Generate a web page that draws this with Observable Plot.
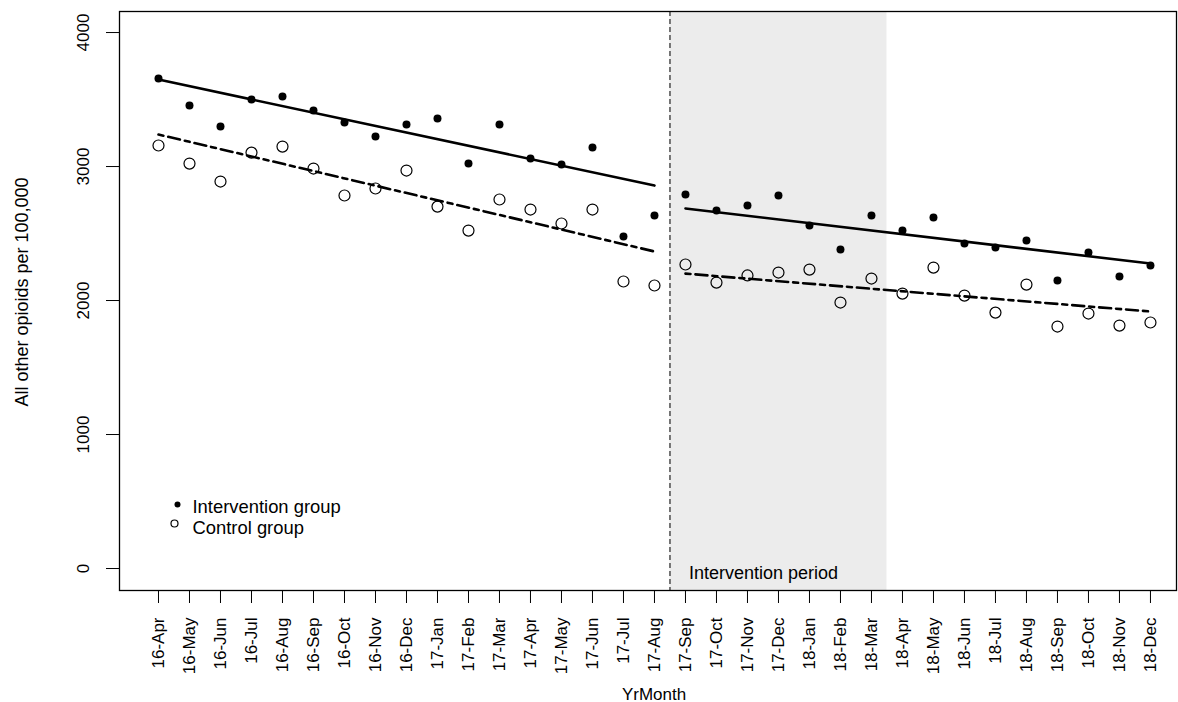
<!DOCTYPE html>
<html>
<head>
<meta charset="utf-8">
<script src="https://cdn.jsdelivr.net/npm/d3@7"></script>
<script src="https://cdn.jsdelivr.net/npm/@observablehq/plot@0.6"></script>
<style>
  html, body { margin: 0; padding: 0; background: #fff; }
</style>
</head>
<body>
<div id="chart"></div>
<script>
// ---- Data ----
const months = ["16-Apr","16-May","16-Jun","16-Jul","16-Aug","16-Sep","16-Oct","16-Nov","16-Dec",
  "17-Jan","17-Feb","17-Mar","17-Apr","17-May","17-Jun","17-Jul","17-Aug","17-Sep","17-Oct","17-Nov","17-Dec",
  "18-Jan","18-Feb","18-Mar","18-Apr","18-May","18-Jun","18-Jul","18-Aug","18-Sep","18-Oct","18-Nov","18-Dec"];

const intervention = [3657,3455,3299,3500,3522,3418,3328,3224,3313,3358,3022,3313,3060,3015,3142,2478,2634,
  2791,2672,2709,2784,2560,2381,2634,2522,2619,2425,2396,2448,2149,2358,2179,2261];

const control = [3157,3022,2888,3104,3149,2985,2784,2836,2970,2701,2522,2754,2679,2575,2679,2142,2112,
  2269,2134,2187,2209,2231,1985,2164,2052,2246,2037,1910,2119,1806,1903,1813,1836];

// fitted segment end values (pre period: 16-Apr..17-Aug, post period: 17-Sep..18-Dec)
const fitInterventionPre = [3649, 2858];
const fitInterventionPost = [2687, 2276];
const fitControlPre = [3239, 2366];
const fitControlPost = [2201, 1918];

const yTicks = [0, 1000, 2000, 3000, 4000];
const periodFirst = "17-Sep";
const periodShadeLast = "18-Mar";
const legendLabels = ["Intervention group", "Control group"];

// ---- Build tables ----
const iPostStart = months.indexOf(periodFirst);
const iShadeEnd = months.indexOf(periodShadeLast);
const iLast = months.length - 1;

const pts = months.map((m, i) => ({i, m, intervention: intervention[i], control: control[i]}));
const fits = [
  {g: "int", seg: "pre", i: 0, v: fitInterventionPre[0]}, {g: "int", seg: "pre", i: iPostStart - 1, v: fitInterventionPre[1]},
  {g: "int", seg: "post", i: iPostStart, v: fitInterventionPost[0]}, {g: "int", seg: "post", i: iLast, v: fitInterventionPost[1]},
  {g: "ctl", seg: "pre", i: 0, v: fitControlPre[0]}, {g: "ctl", seg: "pre", i: iPostStart - 1, v: fitControlPre[1]},
  {g: "ctl", seg: "post", i: iPostStart, v: fitControlPost[0]}, {g: "ctl", seg: "post", i: iLast, v: fitControlPost[1]}
];
const boundary = iPostStart - 0.5;
const shadeEnd = iShadeEnd + 0.5;

const font = "'Liberation Sans', Arial, sans-serif";

const chart = Plot.plot({
  width: 1178,
  height: 702,
  marginLeft: 119,
  marginRight: 2,
  marginTop: 11,
  marginBottom: 112,
  style: {fontFamily: font, fontSize: "17px", color: "#000", background: "#fff"},
  x: {type: "linear", domain: [-1.258, 32.84]},
  y: {type: "linear", domain: [-164, 4157]},
  marks: [
    Plot.rect([{x1: boundary, x2: shadeEnd}], {x1: "x1", x2: "x2", y1: -164, y2: 4157, fill: "#ececec"}),
    Plot.ruleX([boundary], {stroke: "#333", strokeWidth: 1.3, strokeDasharray: "5,3"}),
    Plot.line(fits.filter(d => d.g === "int"), {x: "i", y: "v", z: "seg", stroke: "#000", strokeWidth: 2.6}),
    Plot.line(fits.filter(d => d.g === "ctl"), {x: "i", y: "v", z: "seg", stroke: "#000", strokeWidth: 2.6, strokeDasharray: "5,5,12,5"}),
    Plot.dot(pts, {x: "i", y: "intervention", r: 4, fill: "#000", stroke: "none"}),
    Plot.dot(pts, {x: "i", y: "control", r: 5.5, fill: "none", stroke: "#000", strokeWidth: 1.2}),
    Plot.frame({stroke: "#000", strokeWidth: 1.3}),
    Plot.axisX(d3.range(months.length), {
      tickFormat: i => months[i], tickRotate: -90, tickSize: 13, tickPadding: 14,
      fontSize: 17, label: null, stroke: "#000"
    }),
    Plot.axisY(yTicks, {
      tickFormat: d => String(d), tickRotate: -90, tickSize: 13, tickPadding: 18, fontSize: 17, label: null, stroke: "#000"
    }),
    // axis titles
    Plot.text(["YrMonth"], {frameAnchor: "bottom", dx: 6, dy: 109, lineAnchor: "bottom", textAnchor: "middle", fontSize: 17, fill: "#000"}),
    Plot.text(["All other opioids per 100,000"], {frameAnchor: "left", rotate: -90, dx: -97, dy: -9, textAnchor: "middle", lineAnchor: "middle", fontSize: 18, fill: "#000"}),
    // intervention period label
    Plot.text(["Intervention period"], {x: boundary, frameAnchor: "bottom", dx: 19, dy: -12, textAnchor: "start", lineAnchor: "bottom", fontSize: 18, fill: "#000"}),
    // legend
    Plot.dot([0], {frameAnchor: "bottom-left", dx: 58, dy: -86, r: 3, fill: "#000"}),
    Plot.dot([0], {frameAnchor: "bottom-left", dx: 55, dy: -67, r: 3.5, fill: "none", stroke: "#000", strokeWidth: 1.2}),
    Plot.text([legendLabels[0]], {frameAnchor: "bottom-left", dx: 73, dy: -78, textAnchor: "start", lineAnchor: "bottom", fontSize: 18.4, fill: "#000"}),
    Plot.text([legendLabels[1]], {frameAnchor: "bottom-left", dx: 73, dy: -57, textAnchor: "start", lineAnchor: "bottom", fontSize: 18.4, fill: "#000"})
  ]
});
document.getElementById("chart").appendChild(chart);
</script>
</body>
</html>
